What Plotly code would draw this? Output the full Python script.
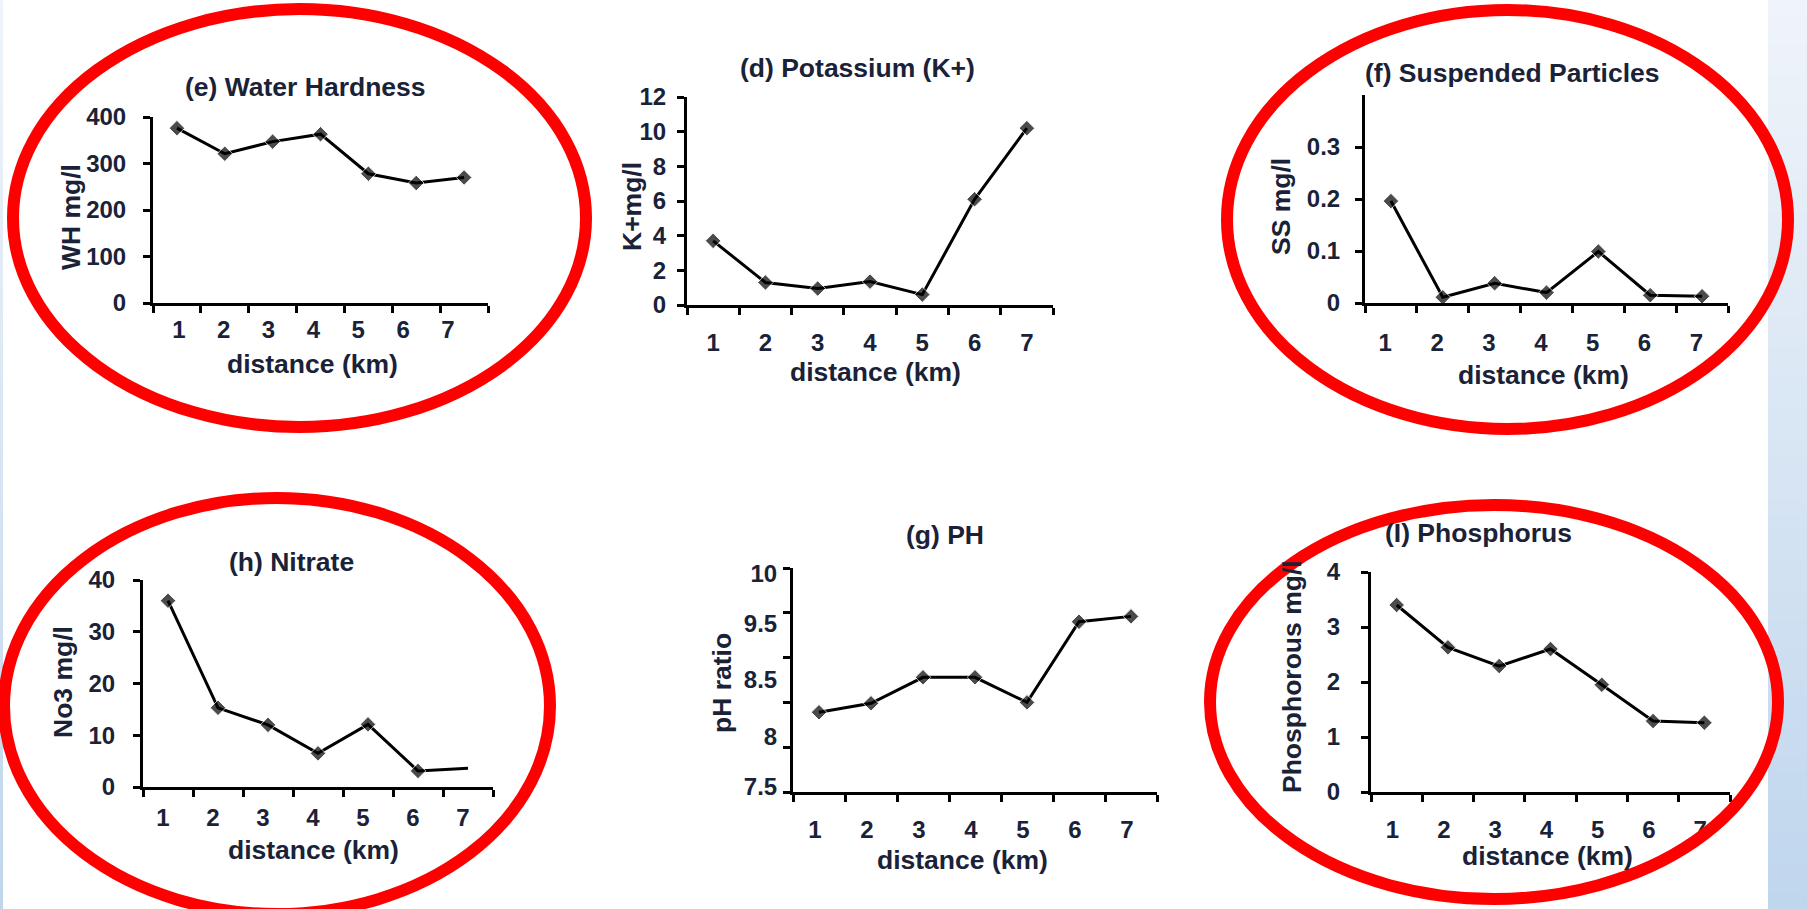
import plotly.graph_objects as go

W, H = 1807, 909

# ---------------- data ----------------
distance_km = [1, 2, 3, 4, 5, 6, 7]
x_tick_labels = ["1", "2", "3", "4", "5", "6", "7"]

water_hardness = [376, 321, 347, 363, 278, 258, 270]        # WH mg/l
potassium = [3.7, 1.3, 0.95, 1.35, 0.6, 6.1, 10.2]          # K+ mg/l
suspended = [0.196, 0.011, 0.038, 0.020, 0.099, 0.015, 0.013]  # SS mg/l
nitrate = [36.0, 15.3, 12.0, 6.5, 12.1, 3.1, 3.6]           # No3 mg/l
ph_ratio = [8.39, 8.49, 8.78, 8.78, 8.50, 9.40, 9.46]       # pH
phosphorus = [3.40, 2.63, 2.29, 2.60, 1.95, 1.29, 1.26]     # mg/l

wh_ticks = [0, 100, 200, 300, 400]
k_ticks = [0, 2, 4, 6, 8, 10, 12]
ss_ticks = [0, 0.1, 0.2, 0.3]
no3_ticks = [0, 10, 20, 30, 40]
ph_tick_marks = [7.5, 8, 8.5, 9, 9.5, 10]
ph_tick_text = ["7.5", "8", "8.5", "9.5", "10"]
p_ticks = [0, 1, 2, 3, 4]

# ---------------- styling / layout ----------------
FONT = "Liberation Sans, Arial, sans-serif"
TXT = "#1a2238"
TITLE_SIZE = 26.5
TICK_SIZE = 24

panels = [
    dict(title="(e) Water Hardness", ytitle="WH mg/l", y=water_hardness,
         yrange=[0, 400], ytv=wh_ticks, ytt=[str(v) for v in wh_ticks],
         box=(153, 488, 117, 303), tpos=(305, 87), ypos=(71, 217), xpos=(312, 364),
         lab=(1.04, 0.937), ystand=12, xstand=3),
    dict(title="(d) Potassium (K+)", ytitle="K+mg/l", y=potassium,
         yrange=[0, 12], ytv=k_ticks, ytt=[str(v) for v in k_ticks],
         box=(687, 1053, 97, 305), tpos=(857, 68), ypos=(632, 207), xpos=(875, 372),
         lab=(1.0, 1.0), ystand=6, xstand=14),
    dict(title="(f) Suspended Particles", ytitle="SS mg/l", y=suspended,
         yrange=[0, 0.4], ytv=ss_ticks, ytt=["0", "0.1", "0.2", "0.3"],
         box=(1365, 1728, 95, 303), tpos=(1512, 73), ypos=(1281, 207), xpos=(1543, 375),
         lab=(0.89, 1.0), ystand=10, xstand=16),
    dict(title="(h) Nitrate", ytitle="No3 mg/l", y=nitrate,
         yrange=[0, 40], ytv=no3_ticks, ytt=[str(v) for v in no3_ticks],
         box=(143, 493, 580, 787), tpos=(291, 562), ypos=(63, 682), xpos=(313, 850),
         lab=(0.9, 1.0), ystand=13, xstand=7),
    dict(title="(g) PH", ytitle="pH ratio", y=ph_ratio,
         yrange=[7.5, 10], ytv=[7.56, 8.12, 8.76, 9.38, 9.94], ytt=ph_tick_text,
         box=(793, 1157, 568, 792), tpos=(945, 535), ypos=(722, 683), xpos=(963, 860),
         lab=(0.92, 1.0), ystand=8, xstand=14, minor_y=ph_tick_marks),
    dict(title="(I) Phosphorus", ytitle="Phosphorous mg/l", y=phosphorus,
         yrange=[0, 4], ytv=p_ticks, ytt=[str(v) for v in p_ticks],
         box=(1371, 1730, 572, 792), tpos=(1478, 533), ypos=(1292, 677), xpos=(1547, 856),
         lab=(0.92, 1.0), ystand=16, xstand=14),
]

fig = go.Figure()
annotations = []
layout_axes = {}

for i, p in enumerate(panels, start=1):
    xa = "x" if i == 1 else f"x{i}"
    ya = "y" if i == 1 else f"y{i}"
    msize = [12] * len(distance_km)
    if p["title"] == "(h) Nitrate":
        msize[-1] = 0  # last point has no marker in the reference
    fig.add_trace(go.Scatter(
        x=distance_km, y=p["y"], xaxis=xa, yaxis=ya, mode="lines+markers",
        line=dict(color="black", width=3),
        marker=dict(symbol="diamond", size=msize, color="black"),
        showlegend=False, cliponaxis=False, hoverinfo="skip",
    ))
    x0, x1, y0, y1 = p["box"]
    start, step = p["lab"]
    tickpos = [start + k * step for k in range(len(x_tick_labels))]
    layout_axes["xaxis" if i == 1 else f"xaxis{i}"] = dict(
        domain=[x0 / W, x1 / W], anchor=ya, range=[0.5, 7.5], automargin=False,
        showline=True, linecolor="black", linewidth=3,
        showgrid=False, zeroline=False, fixedrange=True,
        tickmode="array", tickvals=tickpos, ticktext=x_tick_labels,
        ticks="", ticklabelstandoff=p["xstand"],
        tickfont=dict(family=FONT, size=TICK_SIZE, color=TXT, weight="bold"),
        minor=dict(tickmode="array", tickvals=[k + 0.5 for k in range(0, 8)],
                   ticks="outside", ticklen=7, tickwidth=3, tickcolor="black"),
    )
    yax = dict(
        domain=[1 - y1 / H, 1 - y0 / H], anchor=xa, range=p["yrange"], automargin=False,
        showline=True, linecolor="black", linewidth=3,
        showgrid=False, zeroline=False, fixedrange=True,
        tickmode="array", tickvals=p["ytv"], ticktext=p["ytt"],
        ticklabelstandoff=p["ystand"],
        tickfont=dict(family=FONT, size=TICK_SIZE, color=TXT, weight="bold"),
    )
    if "minor_y" in p:
        yax["ticks"] = ""
        yax["minor"] = dict(tickmode="array", tickvals=p["minor_y"], ticks="outside",
                            ticklen=7, tickwidth=3, tickcolor="black")
    else:
        yax.update(ticks="outside", ticklen=7, tickwidth=3, tickcolor="black")
    layout_axes["yaxis" if i == 1 else f"yaxis{i}"] = yax

    tx, ty = p["tpos"]
    annotations.append(dict(text=p["title"], x=tx / W, y=1 - ty / H, xref="paper", yref="paper",
                            showarrow=False, xanchor="center", yanchor="middle",
                            font=dict(family=FONT, size=TITLE_SIZE, color=TXT, weight="bold")))
    yx, yy = p["ypos"]
    annotations.append(dict(text=p["ytitle"], x=yx / W, y=1 - yy / H, xref="paper", yref="paper",
                            showarrow=False, xanchor="center", yanchor="middle", textangle=-90,
                            font=dict(family=FONT, size=TITLE_SIZE, color=TXT, weight="bold")))
    xx, xy = p["xpos"]
    annotations.append(dict(text="distance (km)", x=xx / W, y=1 - xy / H, xref="paper", yref="paper",
                            showarrow=False, xanchor="center", yanchor="middle",
                            font=dict(family=FONT, size=TITLE_SIZE, color=TXT, weight="bold")))

# ---------------- shapes: background strips and red ellipses ----------------
shapes = []
top_rgb = (239, 244, 250)
bot_rgb = (192, 214, 237)
n_bands = 60
for b in range(n_bands):
    t = b / (n_bands - 1)
    c = tuple(int(round(top_rgb[k] + (bot_rgb[k] - top_rgb[k]) * t)) for k in range(3))
    col = f"rgb({c[0]},{c[1]},{c[2]})"
    ya0 = 1 - b / n_bands
    ya1 = 1 - (b + 1) / n_bands
    for (sx0, sx1) in [(1768, W), (0, 3)]:
        shapes.append(dict(type="rect", xref="paper", yref="paper",
                           x0=sx0 / W, x1=sx1 / W, y0=ya1, y1=ya0 + 0.001,
                           line=dict(width=0), fillcolor=col, layer="below"))

ellipses = [(13, 586, 9, 427), (1227, 1788, 10, 429), (4, 550, 498, 914), (1210, 1778, 505, 899)]
for (ex0, ex1, ey0, ey1) in ellipses:
    shapes.append(dict(type="circle", xref="paper", yref="paper",
                       x0=ex0 / W, x1=ex1 / W, y0=1 - ey1 / H, y1=1 - ey0 / H,
                       line=dict(color="#ff0000", width=12), layer="above"))

fig.update_layout(
    width=W, height=H, autosize=False,
    margin=dict(l=0, r=0, t=0, b=0, pad=0, autoexpand=False),
    paper_bgcolor="white", plot_bgcolor="rgba(0,0,0,0)",
    annotations=annotations, shapes=shapes, showlegend=False,
    **layout_axes,
)

pin_to_corner = (
    "document.documentElement.style.margin='0';"
    "document.body.style.margin='0';"
    "document.body.style.overflow='hidden';"
    "var d=document.getElementById('{plot_id}');"
    "d.style.position='fixed';d.style.left='0px';d.style.top='0px';"
)
fig.write_html("out.html", post_script=pin_to_corner,
               config={"displayModeBar": False, "staticPlot": True})
